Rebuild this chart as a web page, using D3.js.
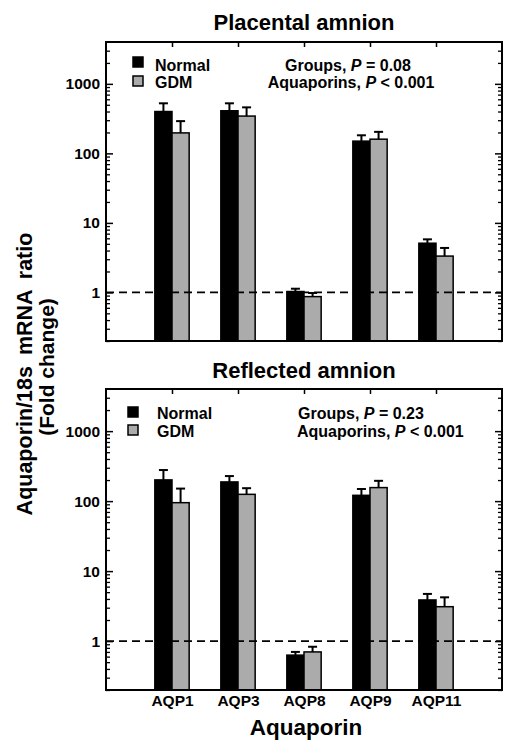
<!DOCTYPE html>
<html><head><meta charset="utf-8">
<script src="https://cdn.jsdelivr.net/npm/d3@7"></script>
<style>
body{margin:0;background:#fff;}
svg{display:block;font-family:"Liberation Sans",Arial,Helvetica,sans-serif;font-weight:bold;}
</style>
</head><body>
<svg id="chart" width="505" height="742"></svg>
<script>
// ---- data ----
const categories = ["AQP1", "AQP3", "AQP8", "AQP9", "AQP11"];
const seriesNames = ["Normal", "GDM"];
const yTickValues = [1, 10, 100, 1000];
const yMinorTicks = [0.2,0.3,0.4,0.5,0.6,0.7,0.8,0.9,2,3,4,5,6,7,8,9,20,30,40,50,60,70,80,90,200,300,400,500,600,700,800,900,2000,3000];

const placentalNormal = [400, 410, 1.03, 150, 5.1];
const placentalNormalUpper = [525, 525, 1.13, 182, 5.8];
const placentalGDM = [197, 344, 0.87, 160, 3.33];
const placentalGDMUpper = [291, 459, 0.98, 204, 4.36];

const reflectedNormal = [201, 188, 0.63, 121, 3.87];
const reflectedNormalUpper = [278, 228, 0.70, 149, 4.72];
const reflectedGDM = [95, 125, 0.70, 156, 3.1];
const reflectedGDMUpper = [151, 153, 0.83, 195, 4.22];

const panelTitles = ["Placental amnion", "Reflected amnion"];
const groupsP = ["0.08", "0.23"];
const aquaporinsP = ["< 0.001", "< 0.001"];

// ---- layout ----
const svg = d3.select("#chart");
const left = 106, right = 502;
const colors = ["#000000", "#ababab"];

const x = d3.scaleLinear().domain([0, categories.length + 1]).range([left, right]);
const unit = x(1) - x(0);
const barW = unit * 0.26;

const panels = [
  {top: 42, bottom: 341, title: panelTitles[0], titleY: 30,
   normal: placentalNormal, normalU: placentalNormalUpper, gdm: placentalGDM, gdmU: placentalGDMUpper,
   legX: 133, legY: [57, 76], legTextX: 155, textY: [70.5, 87.5],
   statAnchor: "middle", statX: [348, 351], gp: groupsP[0], ap: aquaporinsP[0]},
  {top: 389, bottom: 690, title: panelTitles[1], titleY: 378,
   normal: reflectedNormal, normalU: reflectedNormalUpper, gdm: reflectedGDM, gdmU: reflectedGDMUpper,
   legX: 128, legY: [407, 425], legTextX: 157, textY: [419, 436.5],
   statAnchor: "start", statX: [298, 297], gp: groupsP[1], ap: aquaporinsP[1]}
];

panels.forEach((p, pi) => {
  const y = d3.scaleLog().domain([0.2, 4000]).range([p.bottom, p.top]);
  const g = svg.append("g");

  // title
  g.append("text").attr("x", (left + right) / 2).attr("y", p.titleY)
    .attr("text-anchor", "middle").attr("font-size", 22).text(p.title);

  // bars
  const series = [
    {vals: p.normal, up: p.normalU, off: -1},
    {vals: p.gdm, up: p.gdmU, off: 0}
  ];
  series.forEach((s, si) => {
    categories.forEach((c, i) => {
      const cx = x(i + 1);
      const bx = cx + s.off * barW;
      g.append("rect")
        .attr("x", bx).attr("y", y(s.vals[i]))
        .attr("width", barW).attr("height", p.bottom - y(s.vals[i]))
        .attr("fill", colors[si]).attr("stroke", "#000").attr("stroke-width", 1.5);
      const mx = bx + barW / 2;
      g.append("line").attr("x1", mx).attr("x2", mx)
        .attr("y1", y(s.vals[i])).attr("y2", y(s.up[i]))
        .attr("stroke", "#000").attr("stroke-width", 2);
      g.append("line").attr("x1", mx - 4.5).attr("x2", mx + 4.5)
        .attr("y1", y(s.up[i])).attr("y2", y(s.up[i]))
        .attr("stroke", "#000").attr("stroke-width", 2);
    });
  });

  // dashed reference line at 1
  g.append("line").attr("x1", left).attr("x2", right)
    .attr("y1", y(1)).attr("y2", y(1))
    .attr("stroke", "#000").attr("stroke-width", 1.6).attr("stroke-dasharray", "8,5");

  // left axis major
  const la = g.append("g").attr("transform", `translate(${left},0)`)
    .call(d3.axisLeft(y).tickValues(yTickValues).tickFormat(d3.format("d")).tickSize(-7).tickPadding(6));
  la.select(".domain").remove();
  la.selectAll("line").attr("stroke-width", 1.5);
  la.selectAll("text").attr("font-size", 15.5).attr("font-family", "Liberation Sans, Arial, sans-serif").attr("font-weight", "bold").attr("fill", "#000");
  // left minor
  const lm = g.append("g").attr("transform", `translate(${left},0)`)
    .call(d3.axisLeft(y).tickValues(yMinorTicks).tickFormat("").tickSize(-4));
  lm.select(".domain").remove();
  lm.selectAll("line").attr("stroke-width", 1.3);
  // right axis
  const ra = g.append("g").attr("transform", `translate(${right},0)`)
    .call(d3.axisRight(y).tickValues(yTickValues).tickFormat("").tickSize(-7));
  ra.select(".domain").remove();
  ra.selectAll("line").attr("stroke-width", 1.5);
  const rm = g.append("g").attr("transform", `translate(${right},0)`)
    .call(d3.axisRight(y).tickValues(yMinorTicks).tickFormat("").tickSize(-4));
  rm.select(".domain").remove();
  rm.selectAll("line").attr("stroke-width", 1.3);

  // top ticks at categories
  const ta = g.append("g").attr("transform", `translate(0,${p.top})`)
    .call(d3.axisTop(x).tickValues(d3.range(1, categories.length + 1)).tickFormat("").tickSize(-5));
  ta.select(".domain").remove();
  ta.selectAll("line").attr("stroke-width", 1.5);

  // bottom category labels (only on last panel)
  if (pi === panels.length - 1) {
    const ba = g.append("g").attr("transform", `translate(0,${p.bottom})`)
      .call(d3.axisBottom(x).tickValues(d3.range(1, categories.length + 1))
        .tickFormat(d => categories[d - 1]).tickSize(0).tickPadding(5));
    ba.select(".domain").remove();
    ba.selectAll("text").attr("font-size", 15.5).attr("font-family", "Liberation Sans, Arial, sans-serif").attr("font-weight", "bold").attr("fill", "#000");
  }

  // frame
  g.append("rect").attr("x", left).attr("y", p.top)
    .attr("width", right - left).attr("height", p.bottom - p.top)
    .attr("fill", "none").attr("stroke", "#000").attr("stroke-width", 2);

  // legend
  seriesNames.forEach((n, i) => {
    g.append("rect").attr("x", p.legX).attr("y", p.legY[i]).attr("width", 10).attr("height", 10)
      .attr("fill", colors[i]).attr("stroke", "#000").attr("stroke-width", 1.5);
    g.append("text").attr("x", p.legTextX).attr("y", p.textY[i]).attr("font-size", 16).text(n);
  });

  // stats
  const t1 = g.append("text").attr("x", p.statX[0]).attr("y", p.textY[0])
    .attr("text-anchor", p.statAnchor).attr("font-size", 16);
  t1.append("tspan").text("Groups, ");
  t1.append("tspan").attr("font-style", "italic").text("P");
  t1.append("tspan").text(" = " + p.gp);
  const t2 = g.append("text").attr("x", p.statX[1]).attr("y", p.textY[1])
    .attr("text-anchor", p.statAnchor).attr("font-size", 16);
  t2.append("tspan").text("Aquaporins, ");
  t2.append("tspan").attr("font-style", "italic").text("P");
  t2.append("tspan").text(" " + p.ap);
});

// y axis title
svg.append("text").attr("transform", "translate(32,374) rotate(-90)")
  .attr("text-anchor", "middle").attr("font-size", 21.5).attr("word-spacing", 5)
  .text("Aquaporin/18s mRNA ratio");
svg.append("text").attr("transform", "translate(54,367) rotate(-90)")
  .attr("text-anchor", "middle").attr("font-size", 21)
  .text("(Fold change)");

// x axis title
svg.append("text").attr("x", 306).attr("y", 735).attr("text-anchor", "middle")
  .attr("font-size", 22.5).text("Aquaporin");
</script>
</body></html>
